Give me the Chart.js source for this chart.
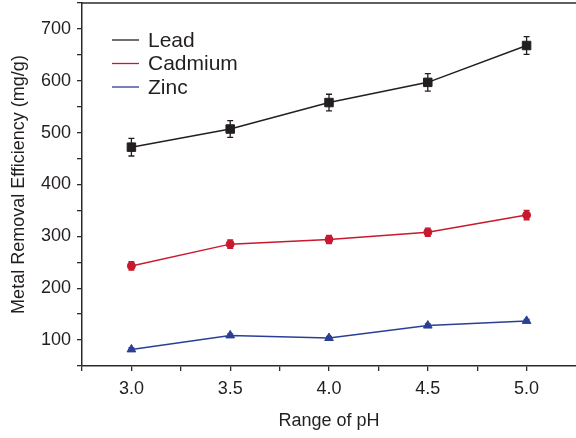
<!DOCTYPE html>
<html>
<head>
<meta charset="utf-8">
<script src="https://cdn.jsdelivr.net/npm/chart.js@4/dist/chart.umd.min.js"></script>
<style>
  html, body { margin: 0; padding: 0; background: #ffffff; }
  #wrap { width: 576px; height: 438px; position: relative; }
</style>
</head>
<body>
<div id="wrap"><canvas id="c" width="576" height="438"></canvas></div>
<script>
// pH values tested
const phValues = [3.0, 3.5, 4.0, 4.5, 5.0];
// Removal efficiency (mg/g) and standard deviations per metal
const lead = [472, 507, 558, 597, 668];
const leadErr = [17, 16, 16, 17, 17];
const cadmium = [243, 285, 294, 308, 341];
const cadmiumErr = [8, 8, 8, 8, 9];
const zinc = [82, 109, 104, 128, 137];
const zincErr = [3, 3, 3, 3, 3];
// Labelled tick values
const xTickLabels = [3.0, 3.5, 4.0, 4.5, 5.0];
const yTickLabels = [100, 200, 300, 400, 500, 600, 700];

const INK = '#231f20';
const AXIS = '#2b2b2b';
const FONT = '"Liberation Sans", Arial, sans-serif';

function pts(ys) { return phValues.map((x, i) => ({ x: x, y: ys[i] })); }

// Vertical error bars with caps, placed through the chart scales
const errorBars = {
  id: 'errorBars',
  afterDatasetsDraw(chart) {
    const ctx = chart.ctx;
    const xs = chart.scales.x, ys = chart.scales.y;
    chart.data.datasets.forEach(ds => {
      if (!ds.errors) return;
      ctx.save();
      ctx.strokeStyle = ds.borderColor;
      ctx.lineWidth = 1.3;
      ds.data.forEach((p, i) => {
        const e = ds.errors[i];
        const px = xs.getPixelForValue(p.x);
        const top = ys.getPixelForValue(p.y + e);
        const bot = ys.getPixelForValue(p.y - e);
        const cap = 3;
        ctx.beginPath();
        ctx.moveTo(px, top); ctx.lineTo(px, bot);
        ctx.moveTo(px - cap, top); ctx.lineTo(px + cap, top);
        ctx.moveTo(px - cap, bot); ctx.lineTo(px + cap, bot);
        ctx.stroke();
      });
      ctx.restore();
    });
  }
};

// Top frame line and in-plot legend
const frameAndLegend = {
  id: 'frameAndLegend',
  afterDraw(chart) {
    const ctx = chart.ctx;
    const a = chart.chartArea;
    ctx.save();
    ctx.strokeStyle = AXIS;
    ctx.lineWidth = 1.5;
    ctx.beginPath();
    ctx.moveTo(a.left - 1, a.top);
    ctx.lineTo(chart.width, a.top);
    ctx.stroke();

    const x0 = a.left + 30, lineLen = 27, textGap = 9;
    let y = a.top + 37;
    ctx.font = '21px ' + FONT;
    ctx.textBaseline = 'middle';
    ctx.textAlign = 'left';
    chart.data.datasets.forEach(ds => {
      ctx.strokeStyle = ds.borderColor;
      ctx.lineWidth = 1.3;
      ctx.beginPath();
      ctx.moveTo(x0, y); ctx.lineTo(x0 + lineLen, y);
      ctx.stroke();
      ctx.fillStyle = INK;
      ctx.fillText(ds.label, x0 + lineLen + textGap, y + 1);
      y += 23.5;
    });
    ctx.restore();
  }
};

new Chart(document.getElementById('c'), {
  type: 'line',
  data: {
    datasets: [
      { label: 'Lead', data: pts(lead), errors: leadErr,
        borderColor: INK, backgroundColor: INK, borderWidth: 1.5,
        pointStyle: 'rect', pointRadius: 6, pointBorderWidth: 1 },
      { label: 'Cadmium', data: pts(cadmium), errors: cadmiumErr,
        borderColor: '#c8192e', backgroundColor: '#c8192e', borderWidth: 1.5,
        pointStyle: 'circle', pointRadius: 4, pointBorderWidth: 1 },
      { label: 'Zinc', data: pts(zinc), errors: zincErr,
        borderColor: '#2b3f94', backgroundColor: '#2b3f94', borderWidth: 1.5,
        pointStyle: 'triangle', pointRadius: 5, pointBorderWidth: 1 }
    ]
  },
  options: {
    responsive: false,
    animation: false,
    devicePixelRatio: 1,
    layout: { autoPadding: false, padding: { top: 3, right: 0, left: 0, bottom: 0 } },
    plugins: { legend: { display: false }, tooltip: { enabled: false } },
    scales: {
      x: {
        type: 'linear', min: 2.75, max: 5.25,
        afterFit(s) { s.height = 72; s.paddingLeft = 0; s.paddingRight = 0; },
        afterBuildTicks(s) {
          const t = [];
          for (let v = 2.75; v <= 5.0001; v += 0.25) t.push({ value: Math.round(v * 100) / 100 });
          s.ticks = t;
        },
        border: { display: true, color: AXIS, width: 1.5 },
        grid: { display: true, drawOnChartArea: false, drawTicks: true, tickLength: 5, color: AXIS, lineWidth: 1.3 },
        ticks: {
          color: INK, padding: 7, maxRotation: 0, autoSkip: false,
          font: { family: FONT, size: 18 },
          callback(v) {
            return xTickLabels.some(t => Math.abs(t - v) < 1e-6) ? Number(v).toFixed(1) : '';
          }
        },
        title: {
          display: true, text: 'Range of pH', color: INK,
          font: { family: FONT, size: 18 },
          padding: { top: 0, bottom: 6 }
        }
      },
      y: {
        type: 'linear', min: 50, max: 750,
        afterFit(s) { s.width = 82; s.paddingTop = 0; s.paddingBottom = 0; },
        afterBuildTicks(s) {
          const t = [];
          for (let v = 50; v <= 750; v += 50) t.push({ value: v });
          s.ticks = t;
        },
        border: { display: true, color: AXIS, width: 1.5 },
        grid: { display: true, drawOnChartArea: false, drawTicks: true, tickLength: 5, color: AXIS, lineWidth: 1.3 },
        ticks: {
          color: INK, padding: 6, autoSkip: false,
          font: { family: FONT, size: 18 },
          callback(v) { return yTickLabels.includes(v) ? String(v) : ''; }
        },
        title: {
          display: true, text: 'Metal Removal Efficiency (mg/g)', color: INK,
          font: { family: FONT, size: 18 },
          padding: { top: 8, bottom: 0 }
        }
      }
    }
  },
  plugins: [errorBars, frameAndLegend]
});
</script>
</body>
</html>
